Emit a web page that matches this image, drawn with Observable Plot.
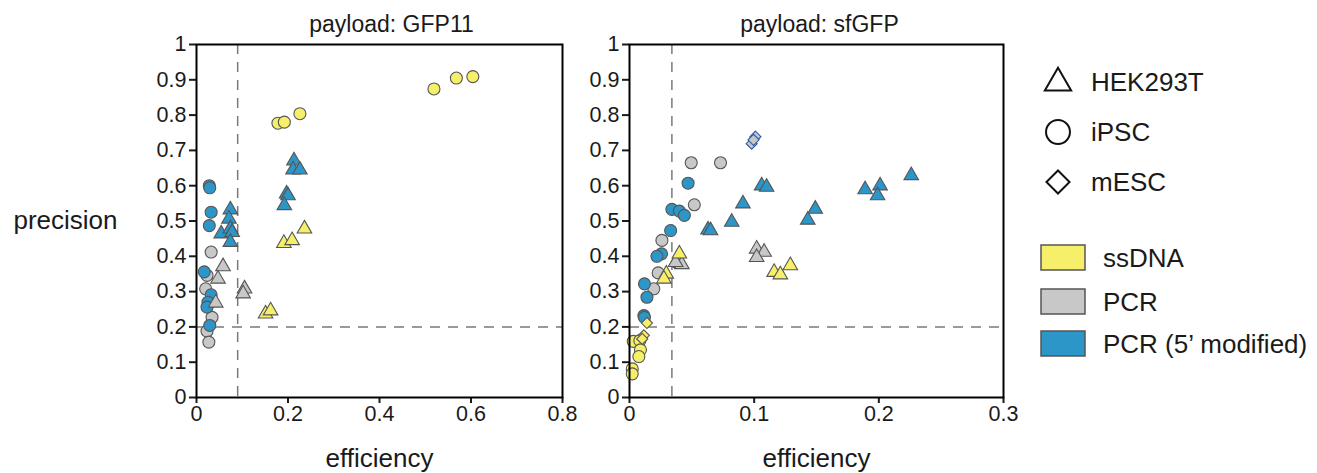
<!DOCTYPE html>
<html>
<head>
<meta charset="utf-8">
<script src="https://cdn.jsdelivr.net/npm/d3@7"></script>
<script src="https://cdn.jsdelivr.net/npm/@observablehq/plot@0.6"></script>
<style>
  html, body { margin: 0; padding: 0; background: #fff; }
  #wrap { position: relative; width: 1317px; height: 473px; font-family: "Liberation Sans", Arial, sans-serif; }
  #left, #right, #legend { position: absolute; top: 0; }
  #left { left: 0; }
  #right { left: 600px; }
  #legend { left: 1030px; }
</style>
</head>
<body>
<div id="wrap"><div id="left"></div><div id="right"></div><div id="legend"></div></div>
<script>
// ---------- data ----------
const cellTypes = ["HEK293T", "iPSC", "mESC"];
const donorTypes = ["ssDNA", "PCR", "PCR (5\u2019 modified)"];
const donorFill = ["#f6ef6a", "#c8c8c8", "#2d96c9"];
const yTicks = [0, 0.1, 0.2, 0.3, 0.4, 0.5, 0.6, 0.7, 0.8, 0.9, 1];
const xTicksGFP11 = [0, 0.2, 0.4, 0.6, 0.8];
const xTicksSfGFP = [0, 0.1, 0.2, 0.3];
const thresholdsGFP11 = {eff: 0.09, prec: 0.2};
const thresholdsSfGFP = {eff: 0.034, prec: 0.2};

// GFP11 panel (cell: 0 HEK293T, 1 iPSC, 2 mESC; donor: 0 ssDNA, 1 PCR, 2 PCR 5' modified)
const gfp11Eff  = [0.032,0.023,0.020,0.034,0.023,0.027, 0.058,0.047,0.042,0.105,0.102,
                   0.178,0.192,0.226,0.519,0.568,0.604, 0.191,0.209,0.236,0.151,0.162,
                   0.028,0.029,0.032,0.028,0.017,0.032,0.025,0.023,0.029,
                   0.074,0.071,0.054,0.074,0.078,0.074,0.213,0.211,0.226,0.197,0.200,0.192];
const gfp11Prec = [0.412,0.346,0.308,0.227,0.188,0.157, 0.371,0.336,0.268,0.308,0.294,
                   0.777,0.780,0.804,0.874,0.905,0.909, 0.437,0.445,0.478,0.237,0.246,
                   0.600,0.594,0.525,0.487,0.356,0.291,0.270,0.256,0.204,
                   0.532,0.506,0.464,0.478,0.468,0.440,0.671,0.645,0.645,0.577,0.572,0.544];
const gfp11Cell = [1,1,1,1,1,1, 0,0,0,0,0,
                   1,1,1,1,1,1, 0,0,0,0,0,
                   1,1,1,1,1,1,1,1,1,
                   0,0,0,0,0,0,0,0,0,0,0,0];
const gfp11Donor = [1,1,1,1,1,1, 1,1,1,1,1,
                    0,0,0,0,0,0, 0,0,0,0,0,
                    2,2,2,2,2,2,2,2,2,
                    2,2,2,2,2,2,2,2,2,2,2,2];

// sfGFP panel
const sfgfpEff  = [0.0495,0.073,0.052,0.026,0.023,0.0195, 0.102,0.108,0.102,0.041,0.042,0.037, 0.101,0.098,0.0995,
                   0.040,0.0295,0.0276,0.116,0.121,0.129, 0.014,0.0115,0.0102, 0.003,0.0083,0.0088,0.0075,0.0022,0.0022,
                   0.047,0.034,0.040,0.044,0.033,0.0257,0.022,0.012,0.014,0.0115,0.012,
                   0.106,0.110,0.091,0.082,0.063,0.065,0.149,0.143,0.189,0.201,0.199,0.226];
const sfgfpPrec = [0.665,0.665,0.546,0.445,0.353,0.308, 0.421,0.412,0.397,0.380,0.377,0.383, 0.739,0.719,0.730,
                   0.407,0.350,0.336,0.355,0.348,0.374, 0.211,0.176,0.166, 0.159,0.161,0.135,0.116,0.081,0.067,
                   0.607,0.533,0.528,0.516,0.473,0.407,0.400,0.322,0.284,0.232,0.227,
                   0.600,0.596,0.549,0.497,0.475,0.473,0.534,0.503,0.589,0.600,0.572,0.629];
const sfgfpCell = [1,1,1,1,1,1, 0,0,0,0,0,0, 2,2,2,
                   0,0,0,0,0,0, 2,2,2, 1,1,1,1,1,1,
                   1,1,1,1,1,1,1,1,1,1,1,
                   0,0,0,0,0,0,0,0,0,0,0,0];
const sfgfpDonor = [1,1,1,1,1,1, 1,1,1,1,1,1, 1,1,1,
                    0,0,0,0,0,0, 0,0,0, 0,0,0,0,0,0,
                    2,2,2,2,2,2,2,2,2,2,2,
                    2,2,2,2,2,2,2,2,2,2,2,2];

// ---------- helpers ----------
const symbolOf = ["triangle", "circle", "diamond2"];
const sizeOf = [5.4, 6, 5];
function rows(eff, prec, cell, donor) {
  return eff.map((e, i) => ({
    eff: e, prec: prec[i],
    symbol: symbolOf[cell[i]],
    r: sizeOf[cell[i]],
    fill: donorFill[donor[i]],
    stroke: cell[i] === 2 && donor[i] === 1 ? "#2f5ca6" : "#555555"
  }));
}
const FONT = "Liberation Sans, Arial, sans-serif";
const INK = "#1a1a1a";

function panel(data, title, xMax, xTicks, thr, opts) {
  return Plot.plot({
    width: opts.width, height: 473,
    marginLeft: opts.ml, marginRight: opts.mr, marginTop: 44, marginBottom: 76,
    style: {fontFamily: FONT, fontSize: "21px", color: INK, background: "white", overflow: "visible"},
    x: {domain: [0, xMax]},
    y: {domain: [0, 1]},
    symbol: {type: "identity"},
    r: {type: "identity"},
    color: {type: "identity"},
    marks: [
      Plot.ruleX([thr.eff], {stroke: "#7a7a7a", strokeWidth: 1.5, strokeDasharray: "10,8"}),
      Plot.ruleY([thr.prec], {stroke: "#7a7a7a", strokeWidth: 1.5, strokeDasharray: "10,8"}),
      Plot.dot(data, {x: "eff", y: "prec", symbol: "symbol", r: "r", fill: "fill", stroke: "stroke", strokeWidth: 1.1, fillOpacity: 1}),
      Plot.axisX({ticks: xTicks, tickFormat: () => "", tickSize: 6, strokeWidth: 2, label: null}),
      Plot.axisY({ticks: yTicks, tickFormat: () => "", tickSize: 7, strokeWidth: 2, label: null}),
      Plot.text(xTicks, {x: d => d, text: d => String(d), frameAnchor: "bottom", lineAnchor: "top", dy: 8, fontSize: 21.5, fill: INK}),
      Plot.text(yTicks, {y: d => d, text: d => String(d), frameAnchor: "left", textAnchor: "end", dx: -10, fontSize: 21.5, fill: INK}),
      Plot.frame({stroke: "black", strokeWidth: 2}),
      Plot.text([title], {frameAnchor: "top", lineAnchor: "bottom", dx: opts.tdx, dy: -13, fontSize: 23, fill: INK}),
      Plot.text(["efficiency"], {frameAnchor: "bottom", lineAnchor: "bottom", dy: 69, fontSize: 26, fill: INK}),
      ...(opts.ylabel ? [Plot.text([opts.ylabel], {frameAnchor: "left", textAnchor: "end", dx: -79, dy: 0, fontSize: 26, fill: INK})] : [])
    ]
  });
}

document.getElementById("left").append(
  panel(rows(gfp11Eff, gfp11Prec, gfp11Cell, gfp11Donor), "payload: GFP11", 0.8, xTicksGFP11, thresholdsGFP11,
        {width: 600, ml: 196, mr: 38, ylabel: "precision", tdx: 12}));
document.getElementById("right").append(
  panel(rows(sfgfpEff, sfgfpPrec, sfgfpCell, sfgfpDonor), "payload: sfGFP", 0.3, xTicksSfGFP, thresholdsSfGFP,
        {width: 430, ml: 29, mr: 27, tdx: 3}));

// ---------- legend ----------
const lg = d3.select("#legend").append("svg").attr("width", 287).attr("height", 473)
  .style("font-family", FONT);
cellTypes.forEach((c, i) => {
  const cy = 82 + i * 50;
  const sym = [d3.symbolTriangle, d3.symbolCircle, d3.symbolDiamond2][i];
  const size = [300, 450, 340][i];
  lg.append("path").attr("d", d3.symbol(sym, size)())
    .attr("transform", `translate(28,${cy + (i === 0 ? 1 : 0)})`)
    .attr("fill", "none").attr("stroke", "#111").attr("stroke-width", 2);
  lg.append("text").attr("x", 61).attr("y", cy).attr("dy", "0.35em")
    .attr("font-size", 26).attr("fill", INK).text(c);
});
donorTypes.forEach((d, i) => {
  const y0 = [245, 289, 331][i];
  lg.append("rect").attr("x", 11).attr("y", y0).attr("width", 44).attr("height", 25)
    .attr("fill", donorFill[i]).attr("stroke", "#555").attr("stroke-width", 1.5);
  lg.append("text").attr("x", 73).attr("y", y0 + 12.5).attr("dy", "0.35em")
    .attr("font-size", 26).attr("fill", INK).text(d);
});
</script>
</body>
</html>
